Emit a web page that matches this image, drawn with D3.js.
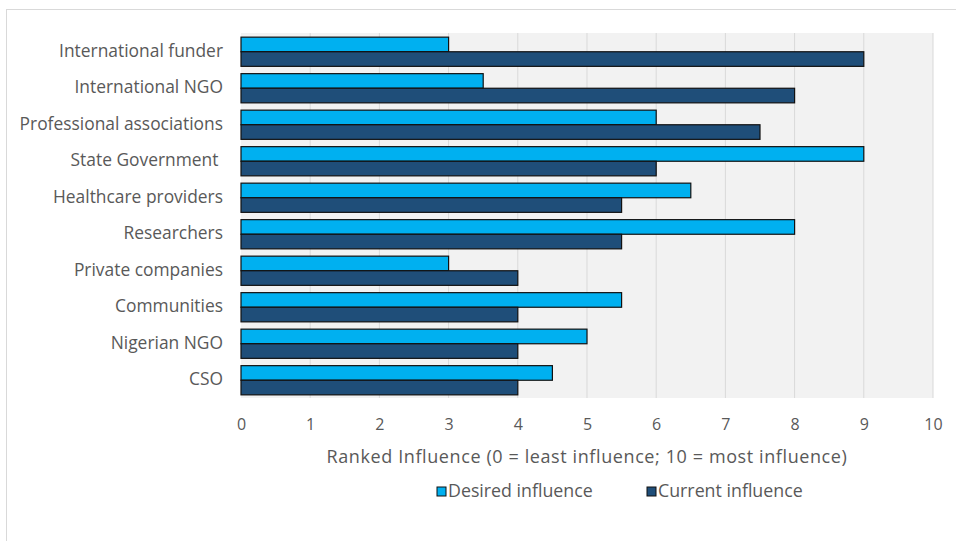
<!DOCTYPE html>
<html>
<head>
<meta charset="utf-8">
<script src="https://cdn.jsdelivr.net/npm/d3@7"></script>
<style>
  body { margin: 0; background: #fff; }
  text { font-family: "Open Sans", sans-serif; fill: #595959; }
</style>
</head>
<body>
<div id="chart"></div>
<script>
// categorias e valores
var categories = ["International funder", "International NGO", "Professional associations", "State Government ",
    "Healthcare providers", "Researchers", "Private companies", "Communities", "Nigerian NGO", "CSO"];
var desired = [3, 3.5, 6, 9, 6.5, 8, 3, 5.5, 5, 4.5];
var current = [9, 8, 7.5, 6, 5.5, 5.5, 4, 4, 4, 4];
var ticks = [0, 1, 2, 3, 4, 5, 6, 7, 8, 9, 10];
var seriesNames = ["Desired influence", "Current influence"];
var colors = ["#00b0f0", "#1f4e79"];

var width = 956, height = 541;
var margin = {top: 33, right: 23, bottom: 143, left: 241};

var svg = d3.select("#chart").append("svg")
    .attr("width", width)
    .attr("height", height);

// borda externa (cortada à direita e embaixo)
svg.append("rect")
    .attr("x", 6.5).attr("y", 9.5)
    .attr("width", 1000).attr("height", 600)
    .attr("fill", "none")
    .attr("stroke", "#d9d9d9");

var x = d3.scaleLinear().domain([0, 10]).range([margin.left, width - margin.right]);
var y = d3.scaleBand().domain(categories).range([margin.top, height - margin.bottom])
    .paddingInner(0.2).paddingOuter(0.1);
var sub = d3.scaleBand().domain(seriesNames).range([0, y.bandwidth()]);

// fundo da área de plotagem
svg.append("rect")
    .attr("x", x(0)).attr("y", margin.top)
    .attr("width", x(10) - x(0)).attr("height", height - margin.bottom - margin.top)
    .attr("fill", "#f2f2f2");

// linhas de grade
svg.append("g").selectAll("line")
    .data(ticks.slice(1))
    .enter().append("line")
    .attr("x1", function(d) { return x(d); })
    .attr("x2", function(d) { return x(d); })
    .attr("y1", margin.top)
    .attr("y2", height - margin.bottom)
    .attr("stroke", "#d9d9d9")
    .attr("stroke-width", 1);

// barras
var rows = categories.map(function(c, i) { return {cat: c, vals: [desired[i], current[i]]}; });
var groups = svg.append("g").selectAll("g")
    .data(rows)
    .enter().append("g")
    .attr("transform", function(d) { return "translate(0," + y(d.cat) + ")"; });

groups.selectAll("rect")
    .data(function(d) { return d.vals.map(function(v, j) { return {name: seriesNames[j], v: v, j: j}; }); })
    .enter().append("rect")
    .attr("x", x(0))
    .attr("y", function(d) { return sub(d.name) + 0.5; })
    .attr("width", function(d) { return x(d.v) - x(0); })
    .attr("height", sub.bandwidth())
    .attr("fill", function(d) { return colors[d.j]; })
    .attr("stroke", "#111")
    .attr("stroke-width", 1.2);

// eixo x
var xAxis = d3.axisBottom(x).tickValues(ticks).tickSize(0).tickPadding(21);
svg.append("g")
    .attr("transform", "translate(0," + (height - margin.bottom) + ")")
    .call(xAxis)
    .call(function(g) { g.select(".domain").remove(); })
    .selectAll("text")
    .style("font-size", "16px")
    .style("font-family", "'Open Sans', sans-serif")
    .attr("fill", "#595959");

// eixo y
var yAxis = d3.axisLeft(y).tickSize(0).tickPadding(18);
svg.append("g")
    .attr("transform", "translate(" + margin.left + ",0)")
    .call(yAxis)
    .call(function(g) { g.select(".domain").remove(); })
    .selectAll("text")
    .style("font-size", "17.4px")
    .style("font-family", "'Open Sans', sans-serif")
    .style("white-space", "pre")
    .attr("fill", "#595959");

// título do eixo
svg.append("text")
    .attr("x", (x(0) + x(10)) / 2)
    .attr("y", 463)
    .attr("text-anchor", "middle")
    .style("font-size", "18px")
    .style("letter-spacing", "0.6px")
    .text("Ranked Influence (0 = least influence; 10 = most influence)");

// legenda
var legendX = [437, 647];
var legend = svg.append("g").selectAll("g")
    .data(seriesNames)
    .enter().append("g")
    .attr("transform", function(d, i) { return "translate(" + legendX[i] + ",491)"; });
legend.append("rect")
    .attr("x", 0).attr("y", -4)
    .attr("width", 9).attr("height", 9)
    .attr("fill", function(d, i) { return colors[i]; })
    .attr("stroke", "#111");
legend.append("text")
    .attr("x", 11).attr("y", 6)
    .style("font-size", "17.8px")
    .text(function(d) { return d; });
</script>
</body>
</html>
